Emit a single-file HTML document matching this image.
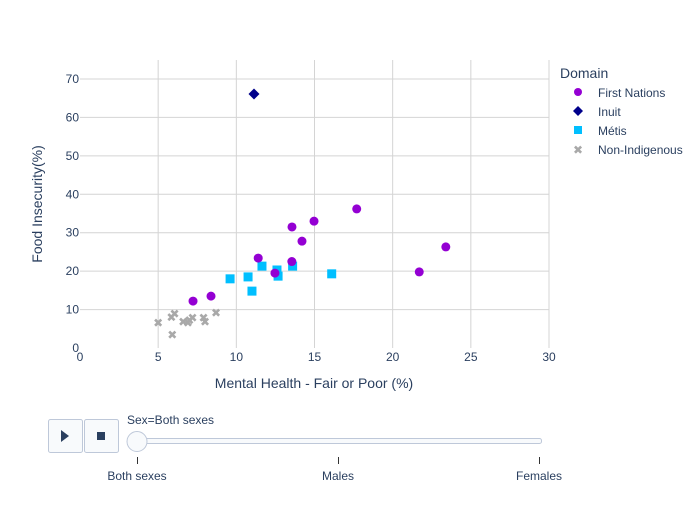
<!DOCTYPE html>
<html><head><meta charset="utf-8"><style>
body{margin:0;background:#fff;}
svg{font-family:"Liberation Sans",Arial,sans-serif;}
</style></head><body>
<svg id="chart" width="700" height="500">
<g id="grid"></g><g id="marks"></g><g id="axes"></g>
<text x="314" y="388" text-anchor="middle" font-size="14" fill="#2a3f5f">Mental Health - Fair or Poor (%)</text>
<text transform="translate(42,204) rotate(-90)" text-anchor="middle" font-size="14" fill="#2a3f5f">Food Insecurity(%)</text>
<g>
<text x="560" y="78" font-size="14" fill="#2a3f5f">Domain</text>
<g><circle cx="578" cy="92" r="4" fill="#9400d3"/><text x="598" y="97" font-size="12" fill="#2a3f5f">First Nations</text></g>
<g><path d="M578,106 L583,111 L578,116 L573,111Z" fill="#00008b"/><text x="598" y="116" font-size="12" fill="#2a3f5f">Inuit</text></g>
<g><rect x="574" y="126" width="8" height="8" fill="#00bfff"/><text x="598" y="135" font-size="12" fill="#2a3f5f">Métis</text></g>
<g><text x="578" y="154" text-anchor="middle" font-size="12" fill="#a9a9a9">✖</text><text x="598" y="154" font-size="12" fill="#2a3f5f">Non-Indigenous</text></g>
</g>
<g><rect x="48.5" y="419.5" width="34" height="33" rx="2" fill="#f8fafc" stroke="#bec8d9"/><path d="M61,430 L69,436 L61,442Z" fill="#2a3f5f"/></g>
<g><rect x="84.5" y="419.5" width="34" height="33" rx="2" fill="#f8fafc" stroke="#bec8d9"/><rect x="97" y="432" width="8" height="8" fill="#2a3f5f"/></g>
<text x="127" y="424" font-size="12" fill="#2a3f5f">Sex=Both sexes</text>
<rect x="127.5" y="438.5" width="414" height="5" rx="2" fill="#f8fafc" stroke="#bec8d9"/>
<g stroke="#333" stroke-width="1"><line x1="137.5" y1="457" x2="137.5" y2="464"/><line x1="338.5" y1="457" x2="338.5" y2="464"/><line x1="539.5" y1="457" x2="539.5" y2="464"/></g>
<text x="137" y="480" text-anchor="middle" font-size="12" fill="#2a3f5f">Both sexes</text>
<text x="338" y="480" text-anchor="middle" font-size="12" fill="#2a3f5f">Males</text>
<text x="539" y="480" text-anchor="middle" font-size="12" fill="#2a3f5f">Females</text>
<circle cx="137" cy="441.5" r="10" fill="#f8fafc" stroke="#bec8d9"/>
</svg>
<script>
const xTicks=[0,5,10,15,20,25,30];
const yTicks=[0,10,20,30,40,50,60,70];
const fnX=[7.23,8.38,11.4,13.56,14.2,14.97,17.7,13.55,12.47,21.7,23.4];
const fnY=[12.2,13.5,23.4,31.5,27.8,33.0,36.2,22.5,19.5,19.8,26.3];
const inX=[11.13];
const inY=[66.1];
const meX=[9.6,10.75,11.0,11.64,12.6,12.67,13.6,16.1];
const meY=[18.0,18.5,14.8,21.3,20.3,18.7,21.3,19.3];
const niX=[5.0,5.9,5.85,6.05,6.6,6.9,7.2,7.9,8.0,8.7,7.0];
const niY=[6.5,3.4,8.0,8.9,6.8,6.5,7.8,7.8,6.8,9.1,7.2];
const xs=v=>80+v*(469/30), ys=v=>348-v*(269/70);
const NS="http://www.w3.org/2000/svg";
function mk(t,a,p){const e=document.createElementNS(NS,t);for(const k in a)e.setAttribute(k,a[k]);p.appendChild(e);return e;}
const g=document.getElementById('grid'),ax=document.getElementById('axes'),m=document.getElementById('marks');
xTicks.forEach(t=>{if(t>0){const l=mk('line',{x1:xs(t),x2:xs(t),y1:60,y2:348,stroke:'#d4d4d4'},g);}
const tx=mk('text',{x:xs(t),y:361,'text-anchor':'middle','font-size':12,fill:'#2a3f5f'},ax);tx.textContent=t;});
yTicks.forEach(t=>{if(t>0){const l=mk('line',{x1:80,x2:549,y1:ys(t),y2:ys(t),stroke:'#d4d4d4'},g);}
const tx=mk('text',{x:79,y:ys(t)+4,'text-anchor':'end','font-size':12,fill:'#2a3f5f'},ax);tx.textContent=t;});
niX.forEach((v,i)=>{const e=mk('text',{x:xs(v),y:ys(niY[i])+4,'text-anchor':'middle','font-size':12,fill:'#a9a9a9'},m);e.textContent='✖';});
meX.forEach((v,i)=>{const e=mk('rect',{x:xs(v)-4.5,y:ys(meY[i])-4.5,width:9,height:9,fill:'#00bfff'},m);});
fnX.forEach((v,i)=>{const e=mk('circle',{cx:xs(v),cy:ys(fnY[i]),r:4.5,fill:'#9400d3'},m);});
inX.forEach((v,i)=>{const x=xs(v),y=ys(inY[i]);const e=mk('path',{d:`M${x},${y-5.5} L${x+5.5},${y} L${x},${y+5.5} L${x-5.5},${y}Z`,fill:'#00008b'},m);});
</script>
</body></html>
